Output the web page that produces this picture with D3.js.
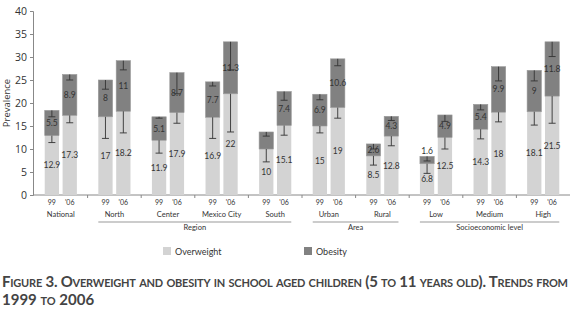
<!DOCTYPE html>
<html>
<head>
<meta charset="utf-8">
<script src="https://cdn.jsdelivr.net/npm/d3@7"></script>
<style>
  body { margin: 0; background: #fff; }
  svg { display: block; font-family: Lato, "Open Sans", sans-serif; }
</style>
</head>
<body>
<script>
//chart values
var categories = ["National", "North", "Center", "Mexico City", "South", "Urban", "Rural", "Low", "Medium", "High"];
var years = ["99", "'06"];
var overweight99 = [12.9, 17, 11.9, 16.9, 10, 15, 8.5, 6.8, 14.3, 18.1];
var overweight06 = [17.3, 18.2, 17.9, 22, 15.1, 19, 12.8, 12.5, 18, 21.5];
var obesity99 = [5.5, 8, 5.1, 7.7, 3.7, 6.9, 2.6, 1.6, 5.4, 9];
var obesity06 = [8.9, 11, 8.7, 11.3, 7.4, 10.6, 4.3, 4.9, 9.9, 11.8];
//lower confidence bounds (overweight alone, and overweight + obesity)
var owLower99 = [11.4, 12.3, 9.1, 12.3, 7.2, 13.5, 6.5, 4.7, 12.2, 15.2];
var owLower06 = [15.7, 13.5, 15.6, 13.7, 13.0, 16.7, 10.7, 10.0, 15.9, 15.6];
var totLower99 = [17.0, 23.0, 16.7, 23.7, 12.8, 20.7, 10.0, 7.4, 18.5, 24.8];
var totLower06 = [25.0, 27.2, 22.0, 27.2, 20.6, 28.1, 16.2, 16.0, 24.8, 30.1];
var unlabeled = ["South 99"]; //obesity value not printed in the original
var yTicks = [0, 5, 10, 15, 20, 25, 30, 35, 40];
var groupNames = ["Region", "Area", "Socioeconomic level"];
var groupFirst = ["North", "Urban", "Low"];
var groupLast = ["South", "Rural", "High"];
var legendNames = ["Overweight", "Obesity"];
var captionLines = ["Figure 3. Overweight and obesity in school aged children (5 to 11 years old). Trends from", "1999 to 2006"];

var width = 576, height = 314;
var lightGray = "#d3d3d3", darkGray = "#818181", ink = "#333";

var svg = d3.select("body").append("svg")
    .attr("width", width)
    .attr("height", height);

var x = d3.scaleBand().domain(categories).range([34, 570]);
var xYear = d3.scaleBand().domain(years).range([0, x.bandwidth()])
    .paddingInner(0.2).paddingOuter(0.6);
var y = d3.scaleLinear().domain([0, 40]).range([195, 11]);

//build one record per bar
var bars = [];
categories.forEach(function(c, i){
    bars.push({cat: c, year: "99", ow: overweight99[i], ob: obesity99[i], owLo: owLower99[i], totLo: totLower99[i]});
    bars.push({cat: c, year: "'06", ow: overweight06[i], ob: obesity06[i], owLo: owLower06[i], totLo: totLower06[i]});
});
function barX(d){ return x(d.cat) + xYear(d.year); }
var bw = xYear.bandwidth();

//y axis
var yAxis = svg.append("g")
    .attr("transform", "translate(33,0)")
    .call(d3.axisLeft(y).tickValues(yTicks).tickSize(3).tickPadding(3));
yAxis.select(".domain").attr("stroke", "#888");
yAxis.selectAll(".tick line").attr("stroke", "#888");
yAxis.selectAll("text").attr("font-size", 10.5).attr("fill", ink)
    .attr("font-family", "'Open Sans', sans-serif");

svg.append("text")
    .attr("transform", "translate(10,103) rotate(-90)")
    .attr("text-anchor", "middle")
    .attr("font-size", 9.5)
    .attr("fill", ink)
    .attr("font-family", "'Open Sans', sans-serif")
    .text("Prevalence");

//x axis baseline with ticks between categories
svg.append("line")
    .attr("x1", 33).attr("x2", 570)
    .attr("y1", y(0)).attr("y2", y(0))
    .attr("stroke", "#888");
svg.selectAll(".sep")
    .data(categories.slice(1))
    .enter().append("line")
    .attr("x1", function(d){ return x(d); })
    .attr("x2", function(d){ return x(d); })
    .attr("y1", y(0)).attr("y2", y(0) + 3)
    .attr("stroke", "#888");

//stacked bars
svg.selectAll(".ow")
    .data(bars)
    .enter().append("rect")
    .attr("x", barX)
    .attr("width", bw)
    .attr("y", function(d){ return y(d.ow); })
    .attr("height", function(d){ return y(0) - y(d.ow); })
    .attr("fill", lightGray);

svg.selectAll(".ob")
    .data(bars)
    .enter().append("rect")
    .attr("x", barX)
    .attr("width", bw)
    .attr("y", function(d){ return y(d.ow + d.ob); })
    .attr("height", function(d){ return y(d.ow) - y(d.ow + d.ob); })
    .attr("fill", darkGray)
    .attr("stroke", "#9a9a9a")
    .attr("stroke-width", 0.6);

//lower error bars, drawn as an upside-down T
function errorBar(top, low){
    bars.forEach(function(d){
        var cx = barX(d) + bw / 2;
        svg.append("line")
            .attr("x1", cx).attr("x2", cx)
            .attr("y1", y(top(d))).attr("y2", y(low(d)))
            .attr("stroke", ink).attr("stroke-width", 0.9);
        svg.append("line")
            .attr("x1", cx - 3.5).attr("x2", cx + 3.5)
            .attr("y1", y(low(d))).attr("y2", y(low(d)))
            .attr("stroke", ink).attr("stroke-width", 0.9);
    });
}
errorBar(function(d){ return d.ow; }, function(d){ return d.owLo; });
errorBar(function(d){ return d.ow + d.ob; }, function(d){ return d.totLo; });

//value labels
svg.selectAll(".owLab")
    .data(bars)
    .enter().append("text")
    .attr("x", function(d){ return barX(d) + bw / 2; })
    .attr("y", function(d){ return (y(0) + y(d.ow)) / 2 + 3; })
    .attr("text-anchor", "middle")
    .attr("font-size", 8.5)
    .attr("fill", ink)
    .text(function(d){ return d.ow; });

svg.selectAll(".obLab")
    .data(bars.filter(function(d){ return unlabeled.indexOf(d.cat + " " + d.year) < 0; }))
    .enter().append("text")
    .attr("x", function(d){ return barX(d) + bw / 2; })
    .attr("y", function(d){
        var top = y(d.ow + d.ob), bottom = y(d.ow);
        return (bottom - top) < 9 ? top - 2 : (top + bottom) / 2 + 3;
    })
    .attr("text-anchor", "middle")
    .attr("font-size", 8.5)
    .attr("fill", ink)
    .text(function(d){ return d.ob; });

//year and category labels
svg.selectAll(".yr")
    .data(bars)
    .enter().append("text")
    .attr("x", function(d){ return barX(d) + bw / 2; })
    .attr("y", 205)
    .attr("text-anchor", "middle")
    .attr("font-size", 7)
    .attr("fill", ink)
    .text(function(d){ return d.year; });

svg.selectAll(".cat")
    .data(categories)
    .enter().append("text")
    .attr("x", function(d){ return x(d) + x.bandwidth() / 2; })
    .attr("y", 216.5)
    .attr("text-anchor", "middle")
    .attr("font-size", 7.5)
    .attr("fill", ink)
    .text(function(d){ return d; });

//group brackets
groupNames.forEach(function(g, i){
    var x1 = x(groupFirst[i]) + xYear(years[0]);
    var x2 = x(groupLast[i]) + xYear(years[1]) + bw;
    svg.append("line")
        .attr("x1", x1).attr("x2", x2)
        .attr("y1", 222).attr("y2", 222)
        .attr("stroke", "#999");
    svg.append("text")
        .attr("x", (x1 + x2) / 2)
        .attr("y", 230)
        .attr("text-anchor", "middle")
        .attr("font-size", 7.5)
        .attr("fill", ink)
        .text(g);
});

//legend
var legendX = [163, 304];
legendNames.forEach(function(n, i){
    svg.append("rect")
        .attr("x", legendX[i]).attr("y", 247)
        .attr("width", 8).attr("height", 8)
        .attr("fill", i == 0 ? lightGray : darkGray);
    svg.append("text")
        .attr("x", legendX[i] + 12).attr("y", 254.5)
        .attr("font-size", 9)
        .attr("fill", ink)
        .text(n);
});

//caption in bold small caps, first line spread to the full width
svg.selectAll(".cap")
    .data(captionLines)
    .enter().append("text")
    .attr("x", 2)
    .attr("y", function(d, i){ return 287 + i * 18; })
    .attr("font-size", 15)
    .attr("font-weight", "bold")
    .attr("fill", "#444")
    .style("font-variant", "small-caps")
    .attr("textLength", function(d, i){ return i == 0 ? 566 : null; })
    .attr("lengthAdjust", "spacing")
    .text(function(d){ return d; });
</script>
</body>
</html>
